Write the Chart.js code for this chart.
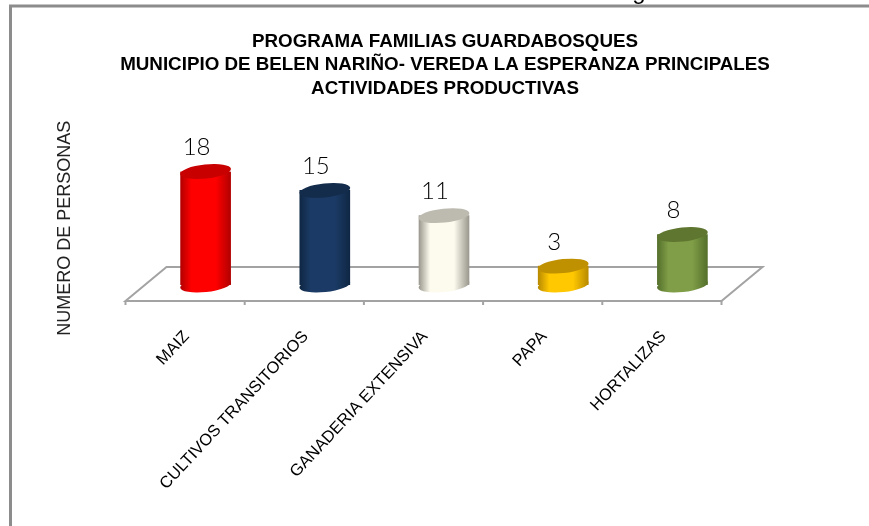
<!DOCTYPE html>
<html>
<head>
<meta charset="utf-8">
<title>Actividades productivas</title>
<script src="https://cdn.jsdelivr.net/npm/chart.js@4"></script>
<style>
  html, body { margin: 0; padding: 0; background: #fff; }
  canvas { display: block; }
</style>
</head>
<body>
<canvas id="actividadesChart" width="869" height="526"></canvas>
<script>
const categories = ['MAIZ', 'CULTIVOS TRANSITORIOS', 'GANADERIA EXTENSIVA', 'PAPA', 'HORTALIZAS'];
const personas = [18, 15, 11, 3, 8];
const titleLines = [
    'PROGRAMA FAMILIAS GUARDABOSQUES',
    'MUNICIPIO DE BELEN NARIÑO- VEREDA LA ESPERANZA PRINCIPALES',
    'ACTIVIDADES PRODUCTIVAS'
];
const yAxisTitle = 'NUMERO DE PERSONAS';

// Cylinder shading: edge, middle, top cap
const edgeColors = ['#b30000', '#0f2744', '#9b998f', '#b88a00', '#55702c'];
const midColors = ['#ff0000', '#1b3b66', '#fdfbee', '#ffc800', '#7f9e47'];
const capColors = ['#c80000', '#132c4c', '#bdbab0', '#bf9000', '#5f7630'];

const BAR_WIDTH = 50;
const DEPTH_X = 41;

function bodyGradient(ctx, cx, i) {
    // Scriptable options get resolved once before the scales have pixels
    if (!Number.isFinite(cx)) return midColors[i];
    const g = ctx.createLinearGradient(cx - BAR_WIDTH / 2, 0, cx + BAR_WIDTH / 2, 0);
    g.addColorStop(0, edgeColors[i]);
    g.addColorStop(0.22, midColors[i]);
    g.addColorStop(0.7, midColors[i]);
    g.addColorStop(1, edgeColors[i]);
    return g;
}

function tiltedEllipse(ctx, cx, cy, fill) {
    ctx.beginPath();
    ctx.ellipse(cx, cy, BAR_WIDTH / 2 + 0.5, 7, -6 * Math.PI / 180, 0, Math.PI * 2);
    ctx.fillStyle = fill;
    ctx.fill();
}

const cylinderScene = {
    id: 'cylinderScene',
    beforeDatasetsDraw(chart) {
        const { ctx, scales: { x, y } } = chart;
        const base = y.getPixelForValue(0);
        const front = base + 16;
        const back = base - 18;
        const left = x.left - DEPTH_X / 2;
        const right = x.right - DEPTH_X / 2;

        ctx.save();
        // Outer frame, the page border of the source document
        ctx.strokeStyle = '#8c8c8c';
        ctx.lineWidth = 3;
        ctx.beginPath();
        ctx.moveTo(10.5, 526);
        ctx.lineTo(10.5, 6);
        ctx.lineTo(869, 6);
        ctx.stroke();

        // Floor of the 3D plot
        ctx.strokeStyle = '#a3a3a3';
        ctx.lineWidth = 2;
        ctx.beginPath();
        ctx.moveTo(left, front);
        ctx.lineTo(right, front);
        ctx.lineTo(right + DEPTH_X, back);
        ctx.lineTo(left + DEPTH_X, back);
        ctx.closePath();
        ctx.stroke();
        const step = (right - left) / categories.length;
        ctx.beginPath();
        for (let i = 0; i <= categories.length; i++) {
            ctx.moveTo(left + i * step, front);
            ctx.lineTo(left + i * step, front + 4);
        }
        ctx.stroke();

        // Rounded bottoms
        personas.forEach((v, i) => {
            const cx = x.getPixelForValue(i);
            tiltedEllipse(ctx, cx, base, bodyGradient(ctx, cx, i));
        });
        ctx.restore();
    },
    afterDatasetsDraw(chart) {
        const { ctx, scales: { x, y } } = chart;
        ctx.save();
        personas.forEach((v, i) => {
            const cx = x.getPixelForValue(i);
            const top = y.getPixelForValue(v);
            tiltedEllipse(ctx, cx, top, capColors[i]);
            ctx.fillStyle = '#000';
            ctx.font = '300 24px Lato';
            ctx.textAlign = 'center';
            ctx.textBaseline = 'middle';
            ctx.fillText(String(v), cx - 9, top - 24);
        });
        // Tail of a caption cut off by the crop
        ctx.fillStyle = '#000';
        ctx.font = '24px "Liberation Sans"';
        ctx.textAlign = 'center';
        ctx.textBaseline = 'alphabetic';
        ctx.fillText('g', 639, -1);
        ctx.restore();
    }
};

new Chart(document.getElementById('actividadesChart'), {
    type: 'bar',
    plugins: [cylinderScene],
    data: {
        labels: categories,
        datasets: [{
            data: personas,
            barThickness: BAR_WIDTH,
            borderWidth: 0,
            backgroundColor: (c) => bodyGradient(c.chart.ctx, c.chart.scales.x.getPixelForValue(c.dataIndex), c.dataIndex)
        }]
    },
    options: {
        responsive: false,
        animation: false,
        layout: { padding: { left: 21, right: 0, top: 0, bottom: 0 } },
        plugins: {
            legend: { display: false },
            tooltip: { enabled: false },
            title: {
                display: true,
                text: titleLines,
                color: '#000',
                font: { family: '"Liberation Sans"', size: 18.8, weight: 'bold', lineHeight: 1.25 },
                padding: { top: 30, bottom: 71 }
            }
        },
        scales: {
            x: {
                grid: { display: false },
                border: { display: false },
                afterFit: (scale) => { scale.height = 241; },
                ticks: {
                    color: '#000',
                    font: { family: '"Liberation Sans"', size: 16.5 },
                    minRotation: 47,
                    maxRotation: 47,
                    autoSkip: false,
                    padding: 34,
                    labelOffset: -19
                }
            },
            y: {
                min: 0,
                max: 18,
                grid: { display: false },
                border: { display: false },
                afterFit: (scale) => { scale.width = 125; },
                ticks: { display: false },
                title: {
                    display: true,
                    text: yAxisTitle,
                    color: '#222',
                    font: { family: '"Liberation Sans"', size: 18 },
                    padding: { top: 33, bottom: 0 }
                }
            },
            // Empty spacer on the right so the title can stay wider than the plot
            spacer: {
                position: 'right',
                grid: { display: false },
                border: { display: false },
                ticks: { display: false },
                afterFit: (scale) => { scale.width = 127; }
            }
        }
    }
});
</script>
</body>
</html>
